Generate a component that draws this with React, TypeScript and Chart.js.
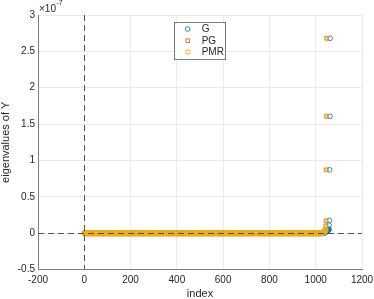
import React, { useEffect, useRef } from 'react';
import { Chart, registerables } from 'chart.js';

Chart.register(...registerables);

// ---- data (y values in units of 1e-7) ----
const xTicks = [-200, 0, 200, 400, 600, 800, 1000, 1200];
const yTicks = [-0.5, 0, 0.5, 1, 1.5, 2, 2.5, 3];
const yExponent = -7;
const seriesNames = ['G', 'PG', 'PMR'];
const seriesColors = ['#0072BD', '#D95319', '#EDB120'];

// G: leading eigenvalues ~0, then a rising tail
const gZeroCount = 1030;
const gTail = [
  0.001, 0.002, 0.003, 0.004, 0.005, 0.006, 0.007, 0.008, 0.009, 0.010,
  0.012, 0.014, 0.016, 0.018, 0.020, 0.022, 0.024, 0.026, 0.028, 0.030,
  0.033, 0.036, 0.039, 0.042, 0.046, 0.050, 0.055, 0.11, 0.175, 0.871,
  1.606, 2.68,
];
// PG
const pgZeroCount = 1024;
const pgTail = [
  0.001, 0.002, 0.003, 0.004, 0.005, 0.006, 0.008, 0.010, 0.012, 0.014,
  0.016, 0.019, 0.022, 0.025, 0.029, 0.033, 0.038, 0.044, 0.05, 0.1,
  0.17, 0.871, 1.606, 2.68,
];
// PMR
const pmrZeroCount = 1024;
const pmrTail = [
  0.001, 0.002, 0.003, 0.004, 0.005, 0.006, 0.008, 0.010, 0.012, 0.014,
  0.016, 0.019, 0.022, 0.025, 0.029, 0.033, 0.038, 0.044, 0.05, 0.1,
  0.17, 0.871, 1.606, 2.68,
];

function buildPoints(zeroCount: number, tail: number[]) {
  const ys = new Array(zeroCount).fill(0).concat(tail);
  return ys.map((y: number, i: number) => ({ x: i + 1, y }));
}

const FONT = "'Liberation Sans', Arial, Helvetica, sans-serif";
const TEXT = '#262626';

function makeHexagram(color: string, r: number, lw: number) {
  const size = Math.ceil(2 * r + 2);
  const c = document.createElement('canvas');
  c.width = size;
  c.height = size;
  const ctx = c.getContext('2d')!;
  ctx.strokeStyle = color;
  ctx.lineWidth = lw;
  ctx.beginPath();
  for (let k = 0; k < 12; k++) {
    const a = -Math.PI / 2 + (k * Math.PI) / 6;
    const rr = k % 2 === 0 ? r : r / Math.sqrt(3);
    const px = size / 2 + rr * Math.cos(a);
    const py = size / 2 + rr * Math.sin(a);
    if (k === 0) ctx.moveTo(px, py);
    else ctx.lineTo(px, py);
  }
  ctx.closePath();
  ctx.stroke();
  return c;
}

export default function App() {
  const ref = useRef<HTMLCanvasElement | null>(null);

  useEffect(() => {
    if (!ref.current) return;
    const hex = makeHexagram(seriesColors[2], 2.7, 0.8);

    const overlay = {
      id: 'overlay',
      afterDatasetsDraw(chart: any) {
        const { ctx, chartArea, scales } = chart;
        const x0 = Math.round(scales.x.getPixelForValue(0)) + 0.5;
        const y0 = Math.round(scales.y.getPixelForValue(0)) + 0.5;
        ctx.save();
        ctx.strokeStyle = '#404040';
        ctx.lineWidth = 0.9;
        ctx.setLineDash([6, 4]);
        ctx.beginPath();
        ctx.moveTo(x0, chartArea.top);
        ctx.lineTo(x0, chartArea.bottom);
        ctx.moveTo(chartArea.left, y0);
        ctx.lineTo(chartArea.right, y0);
        ctx.stroke();
        ctx.restore();
      },
      afterDraw(chart: any) {
        const { ctx, chartArea } = chart;
        ctx.save();
        // exponent label
        ctx.fillStyle = TEXT;
        ctx.textBaseline = 'middle';
        ctx.textAlign = 'left';
        ctx.font = `10px ${FONT}`;
        ctx.fillText('\u00d710', chartArea.left + 1, 9);
        const w = ctx.measureText('\u00d710').width;
        ctx.font = `7px ${FONT}`;
        ctx.fillText(String(yExponent), chartArea.left + 1.5 + w, 3.5);

        // legend box
        const bx = 174.5, by = 22.5, bw = 51, bh = 37;
        ctx.fillStyle = '#ffffff';
        ctx.fillRect(bx, by, bw, bh);
        ctx.strokeStyle = '#7a7a7a';
        ctx.lineWidth = 1;
        ctx.strokeRect(bx, by, bw, bh);
        const rows = [29, 40.7, 52];
        const mx = 187.7;
        ctx.font = `10px ${FONT}`;
        ctx.textBaseline = 'middle';
        ctx.textAlign = 'left';
        seriesNames.forEach((name, i) => {
          const yy = rows[i];
          ctx.lineWidth = 0.8;
          ctx.strokeStyle = seriesColors[i];
          if (i === 0) {
            ctx.beginPath();
            ctx.arc(mx, yy, 2.4, 0, Math.PI * 2);
            ctx.stroke();
          } else if (i === 1) {
            ctx.strokeRect(mx - 1.8, yy - 1.8, 3.6, 3.6);
          } else {
            ctx.drawImage(hex, mx - hex.width / 2, yy - hex.height / 2);
          }
          ctx.fillStyle = TEXT;
          ctx.fillText(name, 201.7, yy + 0.5);
        });
        ctx.restore();
      },
    };

    const chart = new Chart(ref.current, {
      type: 'scatter',
      data: {
        datasets: [
          {
            label: seriesNames[0],
            data: buildPoints(gZeroCount, gTail),
            order: 2,
            pointStyle: 'circle',
            pointRadius: 2.4,
            borderWidth: 0.8,
            borderColor: seriesColors[0],
            backgroundColor: 'rgba(0,0,0,0)',
          },
          {
            label: seriesNames[1],
            data: buildPoints(pgZeroCount, pgTail),
            order: 1,
            pointStyle: 'rect',
            pointRadius: 2.5,
            borderWidth: 0.8,
            borderColor: seriesColors[1],
            backgroundColor: 'rgba(0,0,0,0)',
          },
          {
            label: seriesNames[2],
            data: buildPoints(pmrZeroCount, pmrTail),
            order: 0,
            pointStyle: hex as any,
            pointRadius: 2.7,
            borderWidth: 0.8,
            borderColor: seriesColors[2],
            backgroundColor: 'rgba(0,0,0,0)',
          },
        ],
      },
      options: {
        animation: false,
        responsive: false,
        devicePixelRatio: 1,
        events: [],
        layout: { padding: { left: 0, right: 12, top: 15, bottom: 0 } },
        plugins: {
          legend: { display: false },
          tooltip: { enabled: false },
        },
        scales: {
          x: {
            type: 'linear',
            min: xTicks[0],
            max: xTicks[xTicks.length - 1],
            afterBuildTicks: (scale: any) => {
              scale.ticks = xTicks.map((v) => ({ value: v }));
            },
            afterFit: (scale: any) => {
              scale.height = 29.5;
              scale.paddingLeft = 0;
              scale.paddingRight = 0;
            },
            ticks: {
              color: TEXT,
              font: { family: FONT, size: 10 },
              padding: 5,
              maxRotation: 0,
              autoSkip: false,
              callback: (v: any) => String(v),
            },
            grid: { color: '#ebebeb', lineWidth: 1, drawTicks: false },
            border: { color: '#7f7f7f', width: 1 },
            title: {
              display: true,
              text: 'index',
              color: TEXT,
              font: { family: FONT, size: 11, lineHeight: 1 },
              padding: 0,
            },
          },
          y: {
            type: 'linear',
            min: yTicks[0],
            max: yTicks[yTicks.length - 1],
            afterBuildTicks: (scale: any) => {
              scale.ticks = yTicks.map((v) => ({ value: v }));
            },
            afterFit: (scale: any) => {
              scale.width = 38;
              scale.paddingTop = 0;
              scale.paddingBottom = 0;
            },
            ticks: {
              color: TEXT,
              font: { family: FONT, size: 10 },
              padding: 3,
              autoSkip: false,
              callback: (v: any) => String(v),
            },
            grid: { color: '#ebebeb', lineWidth: 1, drawTicks: false },
            border: { color: '#7f7f7f', width: 1 },
            title: {
              display: true,
              text: 'eigenvalues of Y',
              color: TEXT,
              font: { family: FONT, size: 11, lineHeight: 1 },
              padding: 0,
            },
          },
        },
      },
      plugins: [overlay],
    } as any);

    return () => chart.destroy();
  }, []);

  return (
    <div style={{ position: 'fixed', left: 0, top: 0, width: 374, height: 299, background: '#fff' }}>
      <canvas ref={ref} width={374} height={299} style={{ width: 374, height: 299, display: 'block' }} />
    </div>
  );
}
